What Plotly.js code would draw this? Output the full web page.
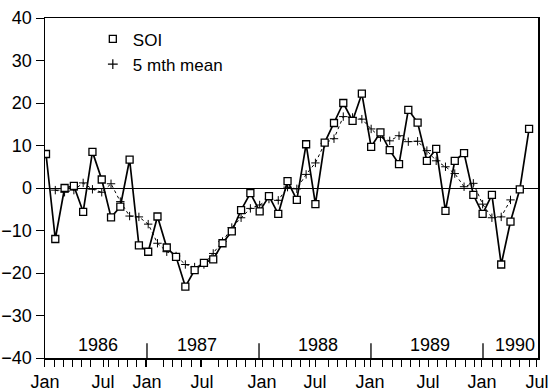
<!DOCTYPE html>
<html>
<head>
<meta charset="utf-8">
<script src="https://cdn.plot.ly/plotly-3.0.1.min.js"></script>
<style>html,body{margin:0;padding:0;background:#fff;}#chart{width:555px;height:391px;}</style>
</head>
<body>
<div id="chart"></div>
<script>
// Month index: 0 = Jan 1986 ... 52 = May 1990
var months = [];
for (var i = 0; i < 53; i++) months.push(i);

// Southern Oscillation Index, monthly
var soi = [
  8.0, -12.0, 0.0, 0.5, -5.6, 8.5, 2.0, -6.9, -4.4, 6.7, -13.5, -15.0,
  -6.7, -14.0, -16.2, -23.2, -19.3, -17.6, -16.8, -13.0, -10.2, -5.2, -1.2, -5.5,
  -1.9, -6.1, 1.6, -2.8, 10.3, -3.8, 10.7, 15.3, 20.0, 15.8, 22.2, 9.7,
  13.1, 8.9, 5.6, 18.4, 15.4, 6.4, 9.2, -5.4, 6.4, 8.2, -1.6, -6.1,
  -1.6, -18.0, -7.9, -0.3, 13.9
];

// 5 month running mean
var mean5 = [
  null, -0.5, -1.0, -0.5, 1.2, -0.3, -1.0, 1.0, -3.2, -6.6, -6.8, -8.5,
  -13.0, -15.0, -16.0, -18.0, -18.6, -18.0, -15.4, -12.6, -9.3, -7.0, -4.8, -4.0,
  -2.6, -2.9, 0.2, -0.2, 3.2, 5.9, 10.5, 11.6, 16.8, 16.6, 16.2, 13.9,
  11.9, 11.1, 12.3, 10.9, 11.0, 8.8, 6.4, 5.0, 3.4, 0.3, 1.1, -3.8,
  -7.0, -6.8, -2.8, null, null
];

// Axis tick labels (as drawn on the original axis)
var monthTickPos = [-0.11, 6.14, 10.87, 16.79, 23.25, 28.96, 34.88, 41.12, 46.93, 52.85];
var monthTickText = ['Jan', 'Jul', 'Jan', 'Jul', 'Jan', 'Jul', 'Jan', 'Jul', 'Jan', 'Jul'];
var yearLabels = ['1986', '1987', '1988', '1989', '1990'];
var yearLabelPos = [5.6, 16.25, 29.3, 41.3, 50.5];
var yearTickPos = [10.87, 22.93, 34.98, 47.04];

var FONT = 'Liberation Sans, Arial, Helvetica, sans-serif';

// monthly tick marks along the time axis, labelled every six months
var tickVals = [], tickText = [];
for (var k = 0; k <= 54; k++) {
  if (k % 6 === 0) { tickVals.push(monthTickPos[k / 6]); tickText.push(monthTickText[k / 6]); }
  else { tickVals.push(-0.108 + 0.983 * k); tickText.push(''); }
}

var traces = [
  {
    x: months, y: mean5, type: 'scatter', mode: 'lines+markers',
    line: {color: '#000', width: 1, dash: '3px,3px'},
    marker: {symbol: 'cross-thin-open', size: 6, color: '#000', line: {color: '#000', width: 1}},
    showlegend: false, connectgaps: false, hoverinfo: 'skip'
  },
  {
    x: months, y: soi, type: 'scatter', mode: 'lines+markers',
    line: {color: '#000', width: 1.7},
    marker: {symbol: 'square', size: 7, color: '#fff', line: {color: '#000', width: 1.3}},
    showlegend: false, hoverinfo: 'skip'
  },
  {
    x: [null], y: [null], type: 'scatter', mode: 'markers', name: 'SOI',
    marker: {symbol: 'square', size: 7, color: '#fff', line: {color: '#000', width: 1.3}}
  },
  {
    x: [null], y: [null], type: 'scatter', mode: 'markers', name: '5 mth mean',
    marker: {symbol: 'cross-thin-open', size: 7, color: '#000', line: {color: '#000', width: 1.2}}
  }
];

var shapes = yearTickPos.map(function (p) {
  return {type: 'line', xref: 'x', yref: 'y', x0: p, x1: p, y0: -40, y1: -36.5,
          line: {color: '#000', width: 1.3}};
});

var annotations = yearLabels.map(function (t, i) {
  return {text: t, x: yearLabelPos[i], y: -36.9, xref: 'x', yref: 'y',
          showarrow: false, font: {family: FONT, size: 18, color: '#000'}};
});

var layout = {
  width: 555, height: 391,
  margin: {l: 45, r: 17, t: 18, b: 33},
  paper_bgcolor: '#fff', plot_bgcolor: '#fff',
  font: {family: FONT, size: 18, color: '#000'},
  showlegend: true,
  legend: {x: 0.097, y: 0.99, xanchor: 'left', yanchor: 'top', bgcolor: 'rgba(0,0,0,0)',
           font: {family: FONT, size: 17, color: '#000'}, tracegroupgap: 0, itemwidth: 30},
  xaxis: {
    range: [-0.108, 52.96], showgrid: false, zeroline: false,
    showline: true, linecolor: '#000', linewidth: 1.5, mirror: true,
    tickmode: 'array', tickvals: tickVals, ticktext: tickText,
    ticks: 'outside', ticklen: 7, tickwidth: 1, tickcolor: '#000',
    tickfont: {family: FONT, size: 18, color: '#000'}
  },
  yaxis: {
    range: [-40, 40], showgrid: false,
    zeroline: true, zerolinecolor: '#000', zerolinewidth: 1,
    showline: true, linecolor: '#000', linewidth: 1.5, mirror: true,
    tickmode: 'array', tickvals: [-40, -30, -20, -10, 0, 10, 20, 30, 40],
    ticks: 'outside', ticklen: 8, tickwidth: 1, tickcolor: '#000',
    tickfont: {family: FONT, size: 18, color: '#000'}
  },
  shapes: shapes,
  annotations: annotations
};

Plotly.newPlot('chart', traces, layout, {staticPlot: true, displayModeBar: false});
</script>
</body>
</html>
